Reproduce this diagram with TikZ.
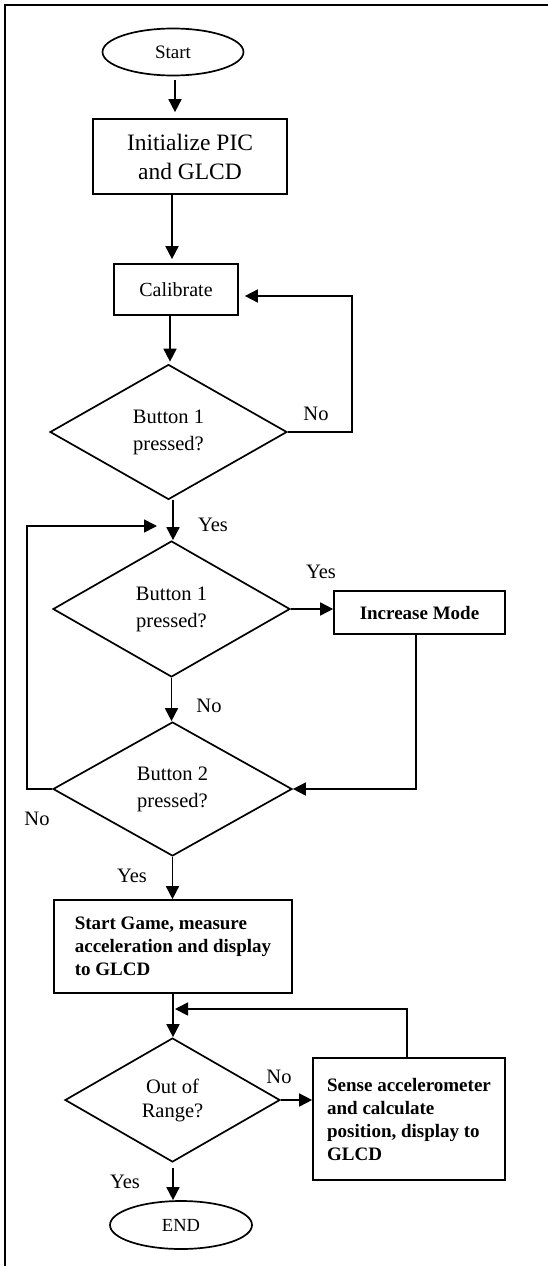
\documentclass[tikz,border=0pt]{standalone}
\usepackage{fontspec}
\setmainfont{Liberation Serif}
\usetikzlibrary{shapes.geometric,arrows.meta}
\begin{document}
\begin{tikzpicture}[x=1pt,y=-1pt,
  lw/.style={line width=1.7pt},
  box/.style={draw,lw,rectangle,inner sep=0pt},
  oval/.style={draw,lw,ellipse,inner sep=0pt},
  dec/.style={draw,lw,diamond,inner sep=0pt,align=center,font=\fontsize{20.5}{27}\selectfont},
  bold/.style={font=\fontsize{19}{23}\selectfont\bfseries},
  arr/.style={lw,-{Triangle[length=13pt,width=13pt]}},
  lab/.style={font=\fontsize{20.5}{24}\selectfont,inner sep=0pt}
]
\useasboundingbox (0,0) rectangle (548,1266);
\draw[lw] (5,1266) -- (5,5) -- (548,5);

% nodes
\node[oval,minimum width=141pt,minimum height=47pt,font=\fontsize{19}{23}\selectfont] (start) at (173,52) {Start};
\node[box,minimum width=194pt,minimum height=75pt,align=center,font=\fontsize{23.5}{29}\selectfont] (init) at (190,156.5) {Initialize PIC\\and GLCD};
\node[box,minimum width=124pt,minimum height=51pt,font=\fontsize{20}{24}\selectfont] (calib) at (176,289.5) {Calibrate};
\node[dec,minimum width=237pt,minimum height=135pt] (d1) at (168.5,432) {Button 1\\pressed?};
\node[dec,minimum width=237pt,minimum height=136pt] (d2) at (171.5,609) {Button 1\\pressed?};
\node[box,bold,minimum width=171pt,minimum height=43pt] (inc) at (419.5,612.5) {Increase Mode};
\node[dec,minimum width=239pt,minimum height=134pt] (d3) at (172.5,789) {Button 2\\pressed?};
\node[box,bold,align=left,minimum width=238pt,minimum height=93pt] (sg) at (173,946.5) {Start Game, measure\\acceleration and display\\to GLCD};
\node[dec,minimum width=215pt,minimum height=124pt,font=\fontsize{20.5}{24}\selectfont] (d4) at (172.5,1100) {Out of\\Range?};
\node[box,bold,align=left,minimum width=192pt,minimum height=122pt] (sense) at (409,1119) {Sense accelerometer\\and calculate\\position, display to\\GLCD};
\node[oval,minimum width=142pt,minimum height=48pt,font=\fontsize{18.5}{22}\selectfont] (end) at (181,1225) {END};

\coordinate (n1) at (352,296);
\coordinate (j1) at (157,526);
\coordinate (j2) at (175,1009);

% connectors
\draw[arr,shorten <=4pt,shorten >=6pt] ([xshift=2pt]start.south) -- ([xshift=-15pt]init.north);
\draw[arr,shorten >=4pt] ([xshift=-18pt]init.south) -- ([xshift=-4pt]calib.north);
\draw[arr,shorten >=2pt] ([xshift=-6pt]calib.south) -- ([xshift=1.5pt]d1.north);
\draw[arr,shorten >=6pt] (d1.east) -| (n1) -- (calib.east |- n1);
\draw[arr] ([xshift=4.5pt]d1.south) -- ([xshift=1.5pt]d2.north);
\draw[arr] (d2.east) -- (inc.west |- d2.east);
\draw[arr] ([xshift=-3.5pt]inc.south) |- (d3.east);
\draw[arr] (d2.south) -- (d2.south |- d3.north);
\draw[arr] (d3.west) -- ++(-25,0) |- (j1);
\draw[arr] (d3.south) -- (d3.south |- sg.north);
\draw[arr] (sg.south) -- (sg.south |- d4.north);
\draw[arr] (d4.east) -- (sense.west |- d4.east);
\draw[arr] ([xshift=-2pt]sense.north) |- (j2);
\draw[arr,shorten <=5pt] ([xshift=0.5pt]d4.south) -- ([xshift=0.5pt]d4.south |- end.north);

% labels
\node[lab] (l1) at (316,414) {No};
\node[lab] (l2) at (213,525) {Yes};
\node[lab] (l3) at (321,572) {Yes};
\node[lab] (l4) at (209,706) {No};
\node[lab] (l5) at (37,819) {No};
\node[lab] (l6) at (132,876) {Yes};
\node[lab] (l7) at (279,1077) {No};
\node[lab] (l8) at (125,1182) {Yes};
\end{tikzpicture}
\end{document}
